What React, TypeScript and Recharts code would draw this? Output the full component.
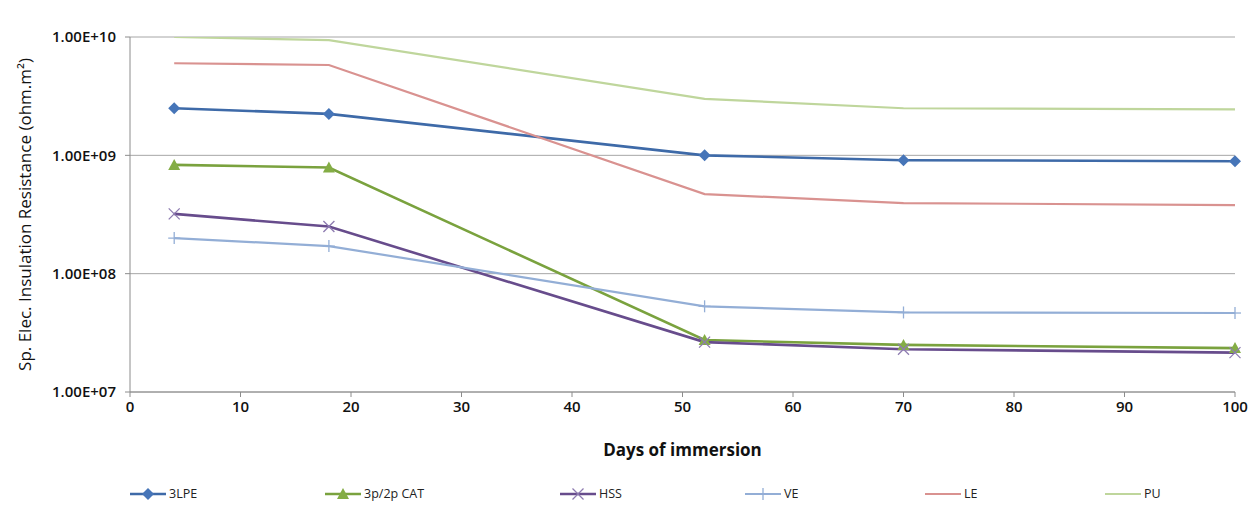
import {
  CartesianGrid,
  Line,
  LineChart,
  XAxis,
  YAxis,
} from "recharts";

const DAYS = [4, 18, 52, 70, 100];

const LPE3 = [2.5e9, 2.24e9, 1.0e9, 9.1e8, 8.9e8];
const CAT = [8.3e8, 7.9e8, 2.75e7, 2.5e7, 2.35e7];
const HSS = [3.2e8, 2.5e8, 2.64e7, 2.3e7, 2.15e7];
const VE = [2.0e8, 1.71e8, 5.3e7, 4.7e7, 4.65e7];
const LE = [6.0e9, 5.8e9, 4.7e8, 3.95e8, 3.8e8];
const PU = [1.0e10, 9.4e9, 3.0e9, 2.5e9, 2.45e9];

const X_TICKS = [0, 10, 20, 30, 40, 50, 60, 70, 80, 90, 100];
const Y_TICKS = [1e7, 1e8, 1e9, 1e10];

const FONT = "'Open Sans', sans-serif";

const data = DAYS.map((day, i) => ({
  day,
  lpe: LPE3[i],
  cat: CAT[i],
  hss: HSS[i],
  ve: VE[i],
  le: LE[i],
  pu: PU[i],
}));

type Marker = "diamond" | "triangle" | "cross" | "plus" | "none";

const SERIES: { key: string; name: string; color: string; mark: string; marker: Marker; width: number }[] = [
  { key: "lpe", name: "3LPE", color: "#3e6aa8", mark: "#4675b8", marker: "diamond", width: 2.6 },
  { key: "cat", name: "3p/2p CAT", color: "#7aa23e", mark: "#84ad45", marker: "triangle", width: 2.6 },
  { key: "hss", name: "HSS", color: "#674c8c", mark: "#8d7bb0", marker: "cross", width: 2.6 },
  { key: "ve", name: "VE", color: "#93aed6", mark: "#93aed6", marker: "plus", width: 2.2 },
  { key: "le", name: "LE", color: "#d99290", mark: "#d99290", marker: "none", width: 2.2 },
  { key: "pu", name: "PU", color: "#bfd69c", mark: "#bfd69c", marker: "none", width: 2.2 },
];

function markerShape(marker: Marker, cx: number, cy: number, color: string, key?: string | number) {
  if (marker === "diamond") {
    const s = 6;
    return <polygon key={key} points={`${cx},${cy - s} ${cx + s},${cy} ${cx},${cy + s} ${cx - s},${cy}`} fill={color} />;
  }
  if (marker === "triangle") {
    const s = 6;
    return <polygon key={key} points={`${cx},${cy - s} ${cx + s},${cy + s - 1} ${cx - s},${cy + s - 1}`} fill={color} />;
  }
  if (marker === "cross") {
    const s = 5.5;
    return (
      <g key={key} stroke={color} strokeWidth={1.3}>
        <line x1={cx - s} y1={cy - s} x2={cx + s} y2={cy + s} />
        <line x1={cx - s} y1={cy + s} x2={cx + s} y2={cy - s} />
      </g>
    );
  }
  if (marker === "plus") {
    const s = 6;
    return (
      <g key={key} stroke={color} strokeWidth={1.3}>
        <line x1={cx} y1={cy - s} x2={cx} y2={cy + s} />
        <line x1={cx - s} y1={cy} x2={cx + s} y2={cy} />
      </g>
    );
  }
  return <g key={key} />;
}

const fmtSci = (v: number) => {
  const exp = Math.round(Math.log10(v));
  return `1.00E+${exp < 10 ? "0" + exp : exp}`;
};

// legend is drawn as a plain row under the chart, Excel-style
const LEGEND_LEFT = [130, 325, 560, 745, 925, 1105];

function ChartLegend() {
  return (
    <div style={{ position: "absolute", left: 0, top: 485, width: 1251, height: 20, fontFamily: FONT, fontSize: 12.5, color: "#222" }}>
      {SERIES.map((s, i) => (
        <div
          key={s.key}
          style={{ position: "absolute", left: LEGEND_LEFT[i], top: 0, display: "flex", alignItems: "center" }}
        >
          <svg width={36} height={16}>
            <line x1={0} y1={8} x2={36} y2={8} stroke={s.color} strokeWidth={s.width} />
            {markerShape(s.marker, 18, 8, s.mark)}
          </svg>
          <span style={{ marginLeft: 3 }}>{s.name}</span>
        </div>
      ))}
    </div>
  );
}

export default function App() {
  return (
    <div style={{ position: "absolute", left: 0, top: 0, width: 1251, height: 512, background: "#fff" }}>
      <LineChart width={1251} height={512} data={data} margin={{ top: 37, right: 16, bottom: 70, left: 10 }}>
        <CartesianGrid vertical={false} stroke="#a6a6a6" strokeWidth={1} />
        <XAxis
          dataKey="day"
          type="number"
          domain={[0, 100]}
          ticks={X_TICKS}
          interval={0}
          height={50}
          stroke="#8c8c8c"
          tickSize={5}
          tickMargin={4}
          tick={{ fill: "#111", fontSize: 15, fontWeight: 600, fontFamily: FONT }}
          label={{
            value: "Days of immersion",
            position: "insideBottom",
            offset: -14,
            style: { fill: "#111", fontSize: 17, fontWeight: 700, fontFamily: FONT },
          }}
        />
        <YAxis
          scale="log"
          domain={[1e7, 1e10]}
          ticks={Y_TICKS}
          interval={0}
          allowDataOverflow
          width={120}
          stroke="#8c8c8c"
          tickSize={5}
          tickMargin={9}
          tickFormatter={fmtSci}
          tick={{ fill: "#111", fontSize: 15, fontWeight: 600, fontFamily: FONT }}
          label={{
            value: "Sp. Elec. Insulation Resistance (ohm.m²)",
            angle: -90,
            position: "insideLeft",
            offset: 15,
            style: { textAnchor: "middle", fill: "#111", fontSize: 17, fontFamily: FONT },
          }}
        />
        {SERIES.map((s) => (
          <Line
            key={s.key}
            dataKey={s.key}
            name={s.name}
            type="linear"
            stroke={s.color}
            strokeWidth={s.width}
            isAnimationActive={false}
            dot={(p: any) => markerShape(s.marker, p.cx, p.cy, s.mark, p.index)}
            activeDot={false}
          />
        ))}
      </LineChart>
      <ChartLegend />
    </div>
  );
}
